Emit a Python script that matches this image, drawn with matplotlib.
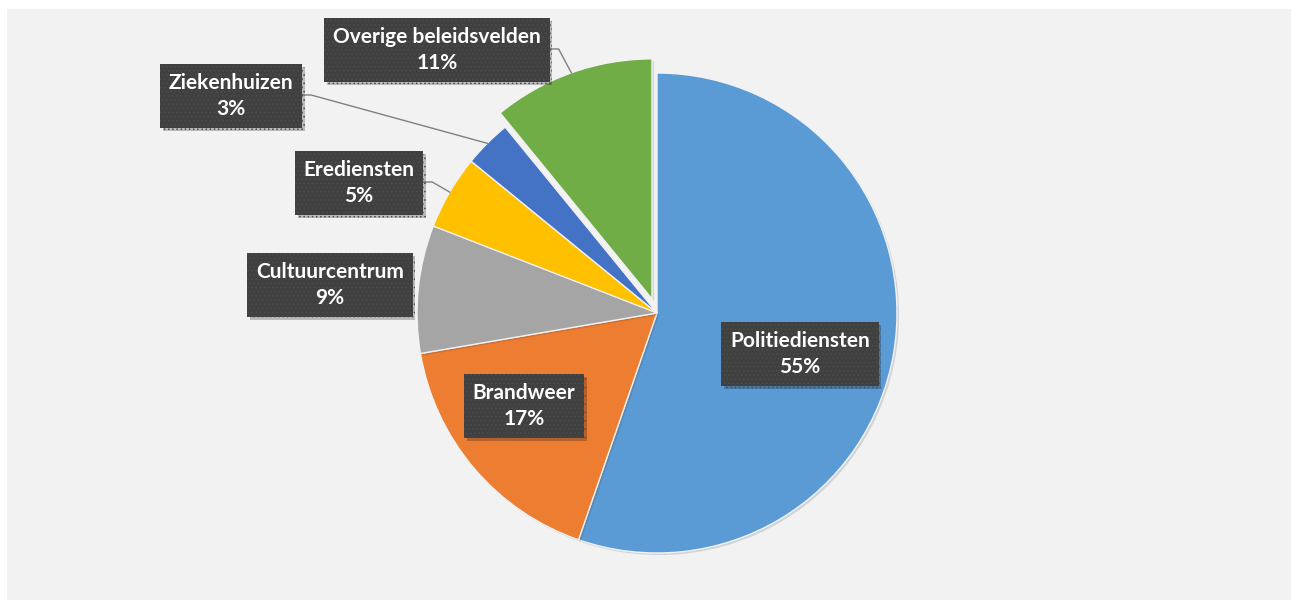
import matplotlib
matplotlib.use('Agg')
from matplotlib import pyplot as plt
from matplotlib.patches import Rectangle
import matplotlib.patheffects as pe
import numpy as np

# gegevens uit de grafiek
categories = ['Politiediensten', 'Brandweer', 'Cultuurcentrum',
              'Erediensten', 'Ziekenhuizen', 'Overige beleidsvelden']
shares = [55.3, 17.0, 8.6, 5.0, 3.2, 10.9]
colors = ['#5B9BD5', '#ED7D31', '#A5A5A5', '#FFC000', '#4472C4', '#70AD47']

W, H = 1298, 609
plt.rcParams['hatch.linewidth'] = 0.6

# posities van de labels (pixels, y van boven)
label_pos = [(800, 354), (524, 406), (330, 285), (359, 183), (231, 96), (437, 50)]
leader = [False, False, False, True, True, True]

fig = plt.figure(figsize=(W / 100, H / 100), dpi=100, facecolor='white')
ax = fig.add_axes([0, 0, 1, 1])
ax.patch.set_alpha(0)

explode = [0, 0, 0, 0, 0, 15]
wedges, _ = ax.pie(shares, colors=colors, explode=explode, startangle=90, counterclock=False,
                   center=(657, H - 313), radius=240,
                   wedgeprops=dict(edgecolor='#f2f2f2', linewidth=1))
for w in wedges:
    w.set_path_effects([pe.SimplePatchShadow(offset=(1.5, -1.5), alpha=0.15), pe.Normal()])
ax.add_patch(Rectangle((7, 9), 1284, 591, facecolor='#f2f2f2', edgecolor='none', zorder=-5))
ax.set_xlim(0, W)
ax.set_ylim(0, H)
ax.set_aspect('equal')
ax.axis('off')

texts = []
for name, v, (x, y) in zip(categories, shares, label_pos):
    t = ax.text(x, H - y, f'{name}\n{round(v)}%', ha='center', va='center', color='white',
                fontsize=15, fontweight='bold', family=['Lato', 'DejaVu Sans'], linespacing=1.4,
                zorder=5,
                bbox=dict(boxstyle='square,pad=0.42', facecolor='#404040', edgecolor='#4c4c4c',
                          hatch='....', linewidth=0))
    t.get_bbox_patch().set_path_effects([pe.SimplePatchShadow(offset=(2, -2), alpha=0.25), pe.Normal()])
    texts.append(t)

fig.canvas.draw()
inv = ax.transData.inverted()
for w, t, has in zip(wedges, texts, leader):
    if not has:
        continue
    ext = t.get_bbox_patch().get_window_extent()
    (x0, y0), (x1, y1) = inv.transform([[ext.x0, ext.y0], [ext.x1, ext.y1]])
    ym = (y0 + y1) / 2 + 1
    th = np.radians((w.theta1 + w.theta2) / 2)
    cx, cy = w.center
    ax_ = cx + w.r * np.cos(th)
    ay_ = cy + w.r * np.sin(th)
    ax.plot([x1, x1 + 9, ax_], [ym, ym, ay_], color='#808080', linewidth=1, zorder=4)

fig.savefig('out.png', dpi=100, facecolor='white')
